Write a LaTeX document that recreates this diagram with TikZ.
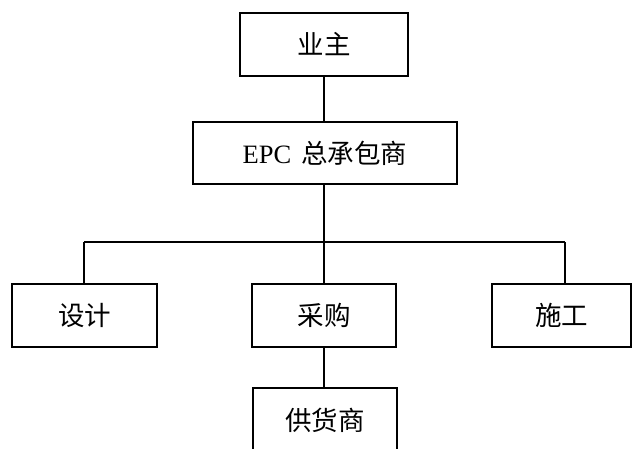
\documentclass[tikz,border=0pt]{standalone}
\usepackage{fontspec}
\setmainfont{Liberation Serif}
\newfontfamily\cjk{Noto Sans CJK SC}
\begin{document}
\begin{tikzpicture}[x=1pt,y=-1pt,
  box/.style={draw=black,line width=1.3pt,fill=white,inner sep=0pt,font=\fontsize{26.5}{30}\selectfont\cjk},
  conn/.style={line width=1.3pt,draw=black}]
\useasboundingbox (0,0) rectangle (633,448);
\clip (0,0) rectangle (633,448);
\node[box,minimum width=168pt,minimum height=63pt] (owner) at (324,44.5) {业主};
\node[box,minimum width=264pt,minimum height=62pt] (epc) at (325,153) {\rmfamily EPC\kern 10pt\cjk 总承包商};
\node[box,minimum width=145pt,minimum height=63pt] (design) at (84.5,315.5) {设计};
\node[box,minimum width=144pt,minimum height=63pt] (proc) at (324,315.5) {采购};
\node[box,minimum width=139pt,minimum height=63pt] (cons) at (561.5,315.5) {施工};
\node[box,minimum width=144pt,minimum height=63pt,text depth=0pt] (supp) at (325,419.5) {供货商};
\draw[line width=1.3pt] (supp.south west) -- ++(0,40) (supp.south east) -- ++(0,40);
\coordinate (j) at (324,242);
\coordinate (jl) at (84,242);
\coordinate (jr) at (565,242);
\draw[conn] (owner.south) -- (owner.south |- epc.north);
\draw[conn] (epc.south -| j) -- (j);
\draw[conn] (jl) -- (jr);
\draw[conn] (jl) -- (jl |- design.north);
\draw[conn] (j) -- (j |- proc.north);
\draw[conn] (jr) -- (jr |- cons.north);
\draw[conn] (proc.south) -- (proc.south |- supp.north);
\end{tikzpicture}
\end{document}
